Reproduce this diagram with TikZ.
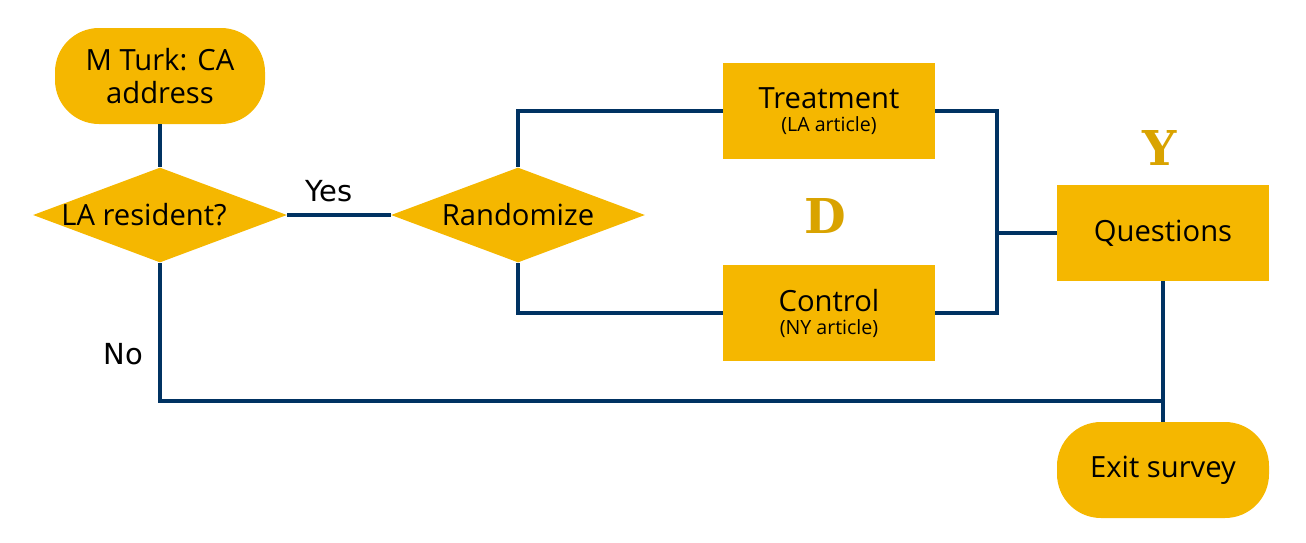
\documentclass[tikz,border=0pt]{standalone}
\usepackage{xcolor}
\usepackage{fontspec}
\setmainfont{Open Sans}
\newfontfamily\labelfont{DejaVu Sans}
\newfontfamily\varfont{DejaVu Serif}
\usepackage{tikz}
\usetikzlibrary{shapes.geometric, positioning}
\definecolor{calgold}{HTML}{F5B700}
\definecolor{vargold}{HTML}{D9A300}
\definecolor{calblue}{HTML}{003262}

\begin{document}
\begin{tikzpicture}
          [x=0.5pt, y=-0.5pt,
           box/.style={fill=calgold, draw=none, rectangle, minimum width=106pt, minimum height=48pt,
             inner sep=0pt, align=center, font=\fontsize{14.6}{16.5}\selectfont},
           pill/.style={box, rounded corners=22pt},
           decide/.style={fill=calgold, draw=none, diamond, inner sep=0pt, minimum width=127pt,
             minimum height=47.5pt, font=\fontsize{14.6}{16.5}\selectfont},
           link/.style={draw=calblue, line width=2pt},
           branch/.style={font=\labelfont\fontsize{14.5}{16}\selectfont},
           varname/.style={text=vargold, font=\varfont\bfseries\fontsize{24}{28}\selectfont}]
            \useasboundingbox (0,0) rectangle (1306,542);
            % boxes
            \node (MTurk) [pill, minimum width=105pt] at (160,76) {M Turk: CA\\address};
            \node (LAres) [decide] at (160,215) {\makebox[0pt]{\kern-16pt LA resident?}};
            \node (Rand) [decide] at (518,215) {\makebox[0pt]{Randomize}};
            \node (Treat) [box] at (829,111) {Treatment\\[-5pt]{\fontsize{9.8}{11}\selectfont (LA article)}};
            \node (Ctrl) [box] at (829,313) {Control\\[-5pt]{\fontsize{9.8}{11}\selectfont (NY article)}};
            \node (Quest) [box] at (1163,233) {\raisebox{-1.5pt}{Questions}};
            \node (Exit) [pill] at (1163,470) {\raisebox{-1.5pt}{Exit survey}};
            \node (D) [varname] at (825,216) {D};
            \node (Y) [varname] at (1160,148) {Y};
            \coordinate (Join) at (997,233);
            \coordinate (NoEnd) at (1163,401);
            % connectors
            \draw[link] (MTurk) -- (LAres);
            \draw[link] (LAres.east) -- node[branch, above=2pt, pos=0.4] {Yes} (Rand.west);
            \draw[link] (LAres.south) -- node[branch, left=4pt, pos=0.66] {No} (LAres.south |- NoEnd) -- (NoEnd);
            \draw[link] (Rand.north) |- (Treat.west);
            \draw[link] (Rand.south) |- (Ctrl.west);
            \draw[link] (Treat.east) -| (Join) |- (Ctrl.east);
            \draw[link] (Join) -- (Quest.west);
            \draw[link] (Quest.south) -- (Exit.north);
        \end{tikzpicture}
\end{document}
